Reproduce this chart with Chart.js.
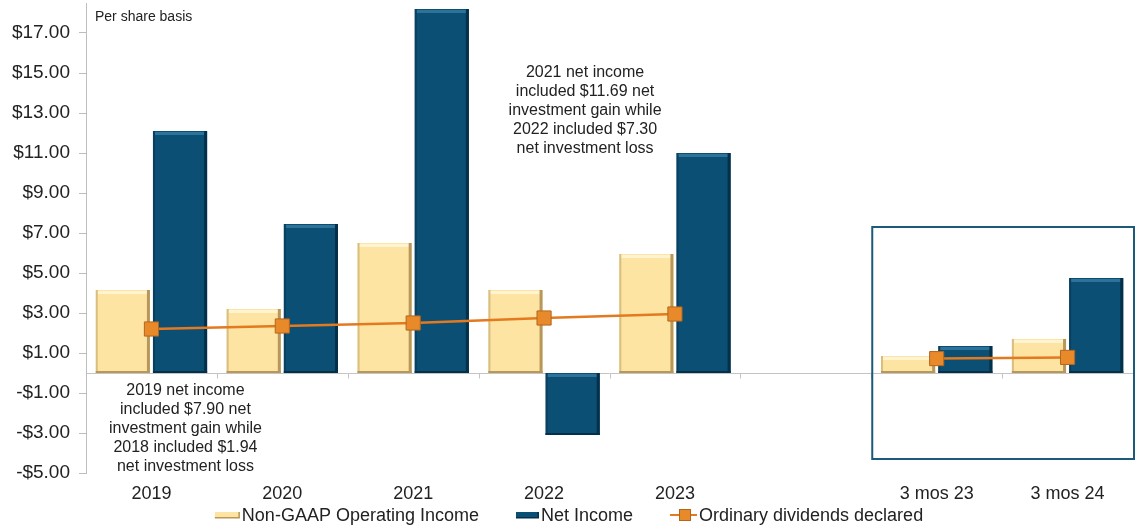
<!DOCTYPE html>
<html>
<head>
<meta charset="utf-8">
<script src="https://cdn.jsdelivr.net/npm/chart.js@4/dist/chart.umd.min.js"></script>
<style>
  html, body { margin: 0; padding: 0; background: #fff; }
  #wrap { width: 1136px; height: 530px; }
</style>
</head>
<body>
<div id="wrap"><canvas id="chart" width="1136" height="530"></canvas></div>
<script>
const categories = ["2019", "2020", "2021", "2022", "2023", "", "3 mos 23", "3 mos 24"]
const operatingIncome = [4.15, 3.2, 6.5, 4.15, 5.95, null, 0.85, 1.7]
const netIncome = [12.1, 7.45, 18.2, -3.1, 11.0, null, 1.35, 4.75]
const dividends = [2.2, 2.35, 2.5, 2.75, 2.95, null, 0.72, 0.78]
const yTickValues = [-5, -3, -1, 1, 3, 5, 7, 9, 11, 13, 15, 17]
const seriesNames = ["Non-GAAP Operating Income", "Net Income", "Ordinary dividends declared"]

const notes = [
  { at: 0, offset: 34, value: -0.9, lines: ["2019 net income", "included $7.90 net", "investment gain while", "2018 included $1.94", "net investment loss"] },
  { at: 3, offset: 41, value: 15.0, lines: ["2021 net income", "included $11.69 net", "investment gain while", "2022 included $7.30", "net investment loss"] }
]

const FONT = "'Liberation Sans', Arial, sans-serif"
const TEXT = "#222"

const palette = {
  yellow: { fill: "#FDE4A3", light: "#FFF4D2", dark: "#B8975A" },
  blue: { fill: "#0C4F75", light: "#2D7299", dark: "#05304A" },
  orange: { line: "#E37A1F", fill: "#E8892A", edge: "#B5651D" }
}

// beveled look on each bar: light top strip, darker right and bottom edges
const bevel = {
  id: "bevel",
  afterDatasetDraw(chart, args) {
    const meta = args.meta
    if (meta.type !== "bar") return
    const c = args.index === 0 ? palette.yellow : palette.blue
    const values = chart.data.datasets[args.index].data
    const ctx = chart.ctx
    ctx.save()
    meta.data.forEach((bar, i) => {
      if (values[i] == null) return
      const l = bar.x - bar.width / 2, r = bar.x + bar.width / 2
      const t = Math.min(bar.y, bar.base), b = Math.max(bar.y, bar.base)
      ctx.fillStyle = c.light
      ctx.fillRect(l + 2, t + 1, r - l - 4, 3)
      ctx.fillStyle = c.dark
      ctx.fillRect(r - 3, t, 3, b - t)
      ctx.fillRect(l, b - 2, r - l, 2)
      ctx.globalAlpha = 0.5
      ctx.fillRect(l, t, 2, b - t)
      ctx.globalAlpha = 1
    })
    ctx.restore()
  }
}

function drawLegend(ctx, cx, cy) {
  ctx.font = "18px " + FONT
  const iconW = [25, 23, 27]
  const gapIcon = 2, gapItem = 37
  const widths = seriesNames.map((s, i) => iconW[i] + gapIcon + ctx.measureText(s).width)
  const total = widths.reduce((a, b) => a + b, 0) + gapItem * (seriesNames.length - 1)
  let x = cx - total / 2
  ctx.textBaseline = "middle"
  ctx.textAlign = "left"
  seriesNames.forEach((name, i) => {
    if (i < 2) {
      const c = i === 0 ? palette.yellow : palette.blue
      ctx.fillStyle = c.fill
      ctx.fillRect(x, cy - 3, iconW[i], 6)
      ctx.fillStyle = c.dark
      ctx.fillRect(x, cy + 2, iconW[i], 1.5)
      ctx.fillRect(x + iconW[i] - 1.5, cy - 3, 1.5, 6)
    } else {
      ctx.strokeStyle = palette.orange.line
      ctx.lineWidth = 2
      ctx.beginPath(); ctx.moveTo(x, cy); ctx.lineTo(x + iconW[i], cy); ctx.stroke()
      ctx.fillStyle = palette.orange.fill
      ctx.fillRect(x + 9, cy - 6, 12, 12)
      ctx.strokeStyle = palette.orange.edge
      ctx.lineWidth = 1
      ctx.strokeRect(x + 9.5, cy - 5.5, 11, 11)
    }
    ctx.fillStyle = TEXT
    ctx.fillText(name, x + iconW[i] + gapIcon, cy + 1)
    x += widths[i] + gapItem
  })
}

const decorations = {
  id: "decorations",
  beforeDatasetsDraw(chart) {
    const { ctx, chartArea, scales: { x, y } } = chart
    const zero = Math.round(y.getPixelForValue(0)) + 0.5
    const step = x.getPixelForValue(1) - x.getPixelForValue(0)
    ctx.save()
    ctx.strokeStyle = "#C4C4C4"
    ctx.lineWidth = 1
    ctx.beginPath()
    ctx.moveTo(chartArea.left, zero)
    ctx.lineTo(chartArea.right, zero)
    for (let i = 0; i < categories.length; i++) {
      const bx = Math.round(x.getPixelForValue(i) + step / 2) + 0.5
      ctx.moveTo(bx, zero)
      ctx.lineTo(bx, zero + 5)
    }
    ctx.stroke()
    ctx.restore()
  },
  afterDraw(chart) {
    const { ctx, chartArea, scales: { x, y } } = chart
    ctx.save()
    ctx.fillStyle = TEXT
    ctx.font = "14px " + FONT
    ctx.textBaseline = "middle"
    ctx.fillText("Per share basis", chartArea.left + 9, 17)

    ctx.font = "16px " + FONT
    ctx.textAlign = "center"
    notes.forEach(n => {
      const cx = x.getPixelForValue(n.at) + n.offset
      const top = y.getPixelForValue(n.value)
      n.lines.forEach((line, i) => ctx.fillText(line, cx, top + i * 19))
    })

    // frame around the quarterly comparison
    const step = x.getPixelForValue(1) - x.getPixelForValue(0)
    const left = x.getPixelForValue(6) - step / 2 + 1
    const right = chartArea.right + 1
    const top = y.getPixelForValue(7.3)
    const bottom = y.getPixelForValue(-4.3)
    ctx.strokeStyle = "#1D5A7A"
    ctx.lineWidth = 2
    ctx.strokeRect(left, top, right - left, bottom - top)

    drawLegend(ctx, 569, 515)
    ctx.restore()
  }
}

new Chart(document.getElementById("chart"), {
  data: {
    labels: categories,
    datasets: [
      {
        type: "bar",
        label: seriesNames[0],
        data: operatingIncome,
        backgroundColor: palette.yellow.fill,
        categoryPercentage: 0.874,
        barPercentage: 0.947,
        order: 1
      },
      {
        type: "bar",
        label: seriesNames[1],
        data: netIncome,
        backgroundColor: palette.blue.fill,
        categoryPercentage: 0.874,
        barPercentage: 0.947,
        order: 1
      },
      {
        type: "line",
        label: seriesNames[2],
        data: dividends,
        borderColor: palette.orange.line,
        borderWidth: 2.5,
        pointStyle: "rect",
        pointRadius: 10,
        pointHoverRadius: 10,
        pointBackgroundColor: palette.orange.fill,
        pointBorderColor: palette.orange.edge,
        pointBorderWidth: 1,
        tension: 0,
        order: 0
      }
    ]
  },
  options: {
    responsive: false,
    animation: false,
    layout: { autoPadding: false, padding: { top: 3, right: 3, left: 0, bottom: 27 } },
    plugins: {
      tooltip: { enabled: false },
      legend: { display: false }
    },
    scales: {
      x: {
        grid: { display: false },
        border: { display: false },
        ticks: { color: TEXT, font: { family: FONT, size: 18 }, padding: 2, maxRotation: 0 },
        afterFit(scale) {
          scale.height = 30
          scale.paddingLeft = 0
          scale.paddingRight = 0
        }
      },
      y: {
        min: -5,
        max: 18.5,
        afterBuildTicks(scale) { scale.ticks = yTickValues.map(v => ({ value: v })) },
        grid: { drawOnChartArea: false, color: "#BDBDBD", tickLength: 7 },
        border: { color: "#BDBDBD" },
        ticks: {
          color: TEXT,
          font: { family: FONT, size: 19 },
          padding: 9,
          callback: v => (v < 0 ? "-$" : "$") + Math.abs(v).toFixed(2)
        },
        afterFit(scale) {
          scale.width = 86
          scale.paddingTop = 0
          scale.paddingBottom = 0
        }
      }
    }
  },
  plugins: [bevel, decorations]
})
</script>
</body>
</html>
